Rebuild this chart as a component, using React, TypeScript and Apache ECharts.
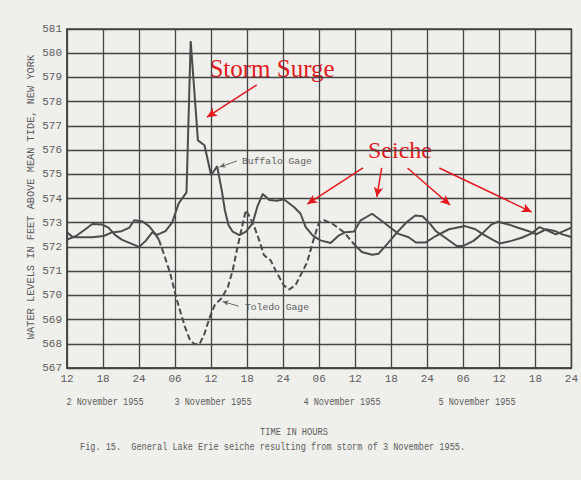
import React, { useEffect, useRef } from "react";
import * as echarts from "echarts";

// Hours since 12:00 on 2 November 1955, water level in feet.
const buffaloSeries: [number, number][] = [
  [0, 572.3], [1.5, 572.45], [2.9, 572.7], [4.2, 572.95], [5.8, 572.93], [6.9, 572.8],
  [8, 572.5], [9.1, 572.3], [10.4, 572.17], [12, 572.0], [13.1, 572.25], [14.2, 572.6],
  [15, 572.5], [16.4, 572.65], [17.5, 573.0], [18.6, 573.8], [19.9, 574.25], [20.6, 580.5],
  [21.8, 576.4], [22.9, 576.2], [24, 574.96], [25, 575.33], [25.8, 574.3], [26.3, 573.5],
  [26.9, 572.9], [27.6, 572.63], [28.7, 572.49], [29.8, 572.63], [30.9, 572.97], [31.7, 573.66],
  [32.6, 574.19], [33.7, 573.94], [35, 573.91], [36.1, 573.97], [37.8, 573.65], [38.9, 573.37],
  [39.75, 572.82], [40.9, 572.48], [42.2, 572.27], [43.9, 572.16], [45.3, 572.48], [46.4, 572.61],
  [47.8, 572.64], [48.9, 573.1], [50.8, 573.37], [52.5, 573.06], [54.1, 572.75], [55.2, 572.54],
  [56.9, 572.4], [58.1, 572.18], [59.7, 572.18], [61.4, 572.45], [63.6, 572.73], [66.3, 572.86],
  [68, 572.73], [69.3, 572.52], [70.7, 572.32], [72.1, 572.14], [74, 572.25], [75.7, 572.38],
  [77.3, 572.55], [78.7, 572.82], [80.1, 572.66], [81.4, 572.52], [82.8, 572.66], [84, 572.8],
];

const toledoSeries: [number, number][] = [
  [0, 572.6], [1, 572.4], [2.6, 572.4], [4.2, 572.4], [6.1, 572.45], [7.5, 572.6],
  [9.1, 572.65], [10.4, 572.8], [11.2, 573.1], [12.6, 573.05], [13.7, 572.85], [14.5, 572.6],
  [15.3, 572.3], [16.1, 571.73], [17.2, 570.9], [18, 570.08], [18.8, 569.39], [19.65, 568.7],
  [20.5, 568.14], [21.3, 567.98], [22.1, 568.0], [22.9, 568.42], [23.8, 569.11], [24.6, 569.6],
  [25.7, 569.87], [26.8, 570.35], [27.6, 571.04], [28.4, 572.0], [29.15, 572.83], [29.8, 573.52],
  [30.4, 573.25], [31.2, 572.83], [32, 572.28], [32.8, 571.66], [33.9, 571.45], [35, 570.9],
  [36.1, 570.42], [36.95, 570.24], [38.05, 570.42], [40, 571.37], [41.1, 572.34], [42, 573.03],
  [42.8, 573.1], [44.2, 572.96], [46.1, 572.61], [48, 572.06], [49.1, 571.79], [50.8, 571.68],
  [51.9, 571.72], [53.6, 572.2], [55, 572.61], [56.6, 573.03], [58, 573.3], [59.2, 573.27],
  [60.3, 573.0], [61.4, 572.66], [63, 572.38], [64.9, 572.04], [66, 572.04], [67.7, 572.25],
  [69.3, 572.59], [70.7, 572.93], [71.8, 573.04], [73.5, 572.93], [75.1, 572.79], [76.8, 572.66],
  [78.1, 572.52], [79.8, 572.73], [81.2, 572.66], [82.5, 572.52], [84, 572.41],
];

const xTickLabels = ["12", "18", "24", "06", "12", "18", "24", "06", "12", "18", "24", "06", "12", "18", "24"];
const dayLabels = ["2 November 1955", "3 November 1955", "4 November 1955", "5 November 1955"];

// Toledo trace is drawn dashed over this stretch of hours
const TOLEDO_DASH_FROM = 15.3;
const TOLEDO_DASH_TO = 48;

// Annotation arrows, in [hour, level] coordinates
const surgeArrow: [number, number][] = [[31.6, 578.69], [23.3, 577.36]];
const seicheArrows: [number, number][][] = [
  [[49.3, 575.26], [40.0, 573.77]],
  [[52.4, 575.26], [51.6, 574.06]],
  [[56.7, 575.26], [63.8, 573.73]],
  [[62.0, 575.26], [77.4, 573.44]],
];
const buffaloLeader: [number, number][] = [[28.3, 575.55], [25.4, 575.3]];
const toledoLeader: [number, number][] = [[28.6, 569.55], [25.9, 569.75]];

const MONO = '"Liberation Mono", "DejaVu Sans Mono", monospace';
const SERIF = '"Liberation Serif", "DejaVu Serif", serif';
const INK = "#454545";
const TYPE = "#5c5c5c";
const RED = "#e3191c";

function arrowLines(pairs: [number, number][][], color: string, width: number, size: number[]) {
  return {
    silent: true,
    symbol: ["none", "arrow"],
    symbolSize: size,
    label: { show: false },
    lineStyle: { color, width, type: "solid" as const },
    data: pairs.map((p) => [{ coord: p[0] }, { coord: p[1] }]),
  };
}

function typed(text: string, x: number, y: number, align: string, extra: any = {}) {
  return {
    type: "text",
    x,
    y,
    silent: true,
    ...extra,
    style: {
      text,
      x: 0,
      y: 0,
      fill: TYPE,
      font: `11px ${MONO}`,
      align,
      textAlign: align,
      verticalAlign: "middle",
      textVerticalAlign: "middle",
      ...(extra.style || {}),
    },
  };
}

export default function App() {
  const ref = useRef<HTMLDivElement>(null);

  useEffect(() => {
    if (!ref.current) return;
    const chart = echarts.init(ref.current, undefined, { renderer: "svg" });

    const toledoA = toledoSeries.filter((d) => d[0] <= TOLEDO_DASH_FROM);
    const toledoB = toledoSeries.filter((d) => d[0] >= TOLEDO_DASH_FROM && d[0] <= TOLEDO_DASH_TO);
    const toledoC = toledoSeries.filter((d) => d[0] >= TOLEDO_DASH_TO);

    const traceStyle = { color: "#4c4c4c", width: 2 };

    chart.setOption({
      animation: false,
      backgroundColor: "#efefec",
      grid: {
        left: 67,
        top: 29,
        right: 6,
        bottom: 112,
        show: true,
        borderColor: INK,
        borderWidth: 1.5,
      },
      xAxis: {
        type: "value",
        min: 0,
        max: 84,
        interval: 6,
        axisLine: { show: true, lineStyle: { color: INK, width: 1.5 } },
        axisTick: { show: false },
        splitLine: { show: true, lineStyle: { color: INK, width: 1.3 } },
        axisLabel: {
          color: TYPE,
          fontFamily: MONO,
          fontSize: 11,
          margin: 5,
          formatter: (v: number) => xTickLabels[Math.round(v / 6)] ?? "",
        },
      },
      yAxis: {
        type: "value",
        min: 567,
        max: 581,
        interval: 1,
        axisLine: { show: true, lineStyle: { color: INK, width: 1.5 } },
        axisTick: { show: false },
        splitLine: { show: true, lineStyle: { color: INK, width: 1.3 } },
        axisLabel: {
          color: TYPE,
          fontFamily: MONO,
          fontSize: 11,
          margin: 5,
        },
      },
      series: [
        {
          name: "Buffalo Gage",
          type: "line",
          data: buffaloSeries,
          showSymbol: false,
          lineStyle: traceStyle,
          z: 3,
          markLine: arrowLines([surgeArrow, ...seicheArrows], RED, 1.5, [7, 10]),
        },
        {
          name: "Toledo Gage",
          type: "line",
          data: toledoA,
          showSymbol: false,
          lineStyle: traceStyle,
          z: 3,
          markLine: arrowLines([buffaloLeader, toledoLeader], "#666", 1, [4, 6]),
        },
        {
          name: "Toledo Gage (dashed)",
          type: "line",
          data: toledoB,
          showSymbol: false,
          lineStyle: { ...traceStyle, type: [6, 3] },
          z: 3,
        },
        {
          name: "Toledo Gage (late)",
          type: "line",
          data: toledoC,
          showSymbol: false,
          lineStyle: traceStyle,
          z: 3,
        },
      ],
      graphic: [
        typed("WATER LEVELS IN FEET ABOVE MEAN TIDE, NEW YORK", 31, 197, "center", {
          rotation: Math.PI / 2,
          style: { font: `10.3px ${MONO}` },
        }),
        typed("Buffalo Gage", 242, 161, "left", { style: { font: `9.7px ${MONO}` } }),
        typed("Toledo Gage", 245, 307, "left", { style: { font: `9.7px ${MONO}` } }),
        typed(dayLabels[0], 105, 402, "center", { scaleX: 0.78 }),
        typed(dayLabels[1], 213, 402, "center", { scaleX: 0.78 }),
        typed(dayLabels[2], 342, 402, "center", { scaleX: 0.78 }),
        typed(dayLabels[3], 477, 402, "center", { scaleX: 0.78 }),
        typed("TIME IN HOURS", 294, 432, "center", { scaleX: 0.79 }),
        typed(
          "Fig. 15.  General Lake Erie seiche resulting from storm of 3 November 1955.",
          80,
          447,
          "left",
          { scaleX: 0.777 }
        ),
        {
          type: "text",
          x: 272,
          y: 68,
          silent: true,
          style: {
            text: "Storm Surge",
            fill: RED,
            font: `25px ${SERIF}`,
            align: "center",
            textAlign: "center",
            verticalAlign: "middle",
            textVerticalAlign: "middle",
          },
        },
        {
          type: "text",
          x: 400,
          y: 150,
          silent: true,
          style: {
            text: "Seiche",
            fill: RED,
            font: `24px ${SERIF}`,
            align: "center",
            textAlign: "center",
            verticalAlign: "middle",
            textVerticalAlign: "middle",
          },
        },
      ],
    });

    return () => chart.dispose();
  }, []);

  return <div ref={ref} style={{ width: 581, height: 480, position: "absolute", left: 0, top: 0 }} />;
}
